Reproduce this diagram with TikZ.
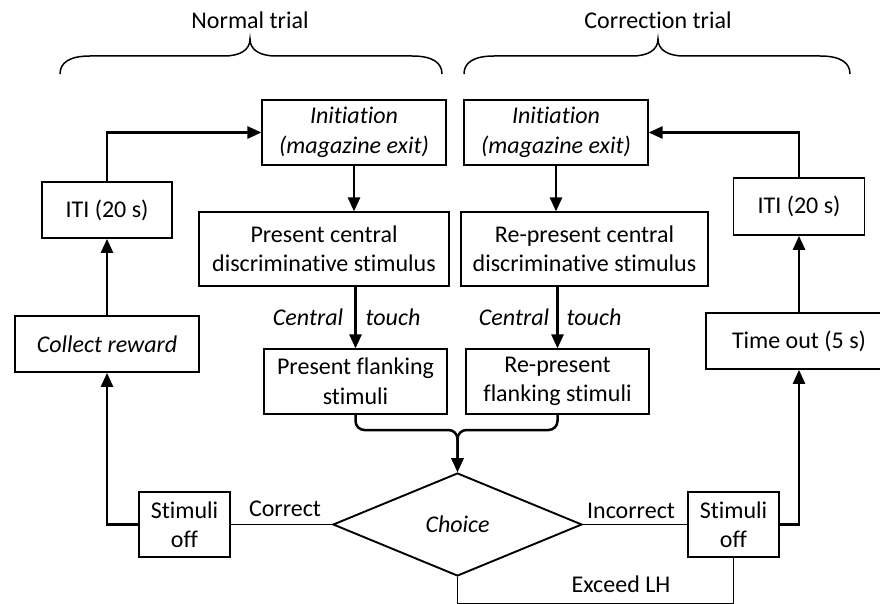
\documentclass[tikz,border=0pt]{standalone}
\usepackage{fontspec}
\setmainfont{Carlito}[Ligatures=NoCommon]
\usetikzlibrary{arrows.meta,shapes.geometric}
\tikzset{
  every node/.style={font=\fontsize{24}{29.5}\selectfont},
  ital/.style={font=\fontsize{24}{29.5}\selectfont\itshape},
  box/.style={draw,line width=1.1pt,align=center,inner sep=1pt},
  sidebox/.style={box,line width=1.7pt},
  arr/.style={line width=2.5pt,-{Triangle[length=14pt,width=12pt]}},
  link/.style={line width=1.9pt},
}
\begin{document}
\begin{tikzpicture}[x=1pt,y=-1pt]
    \useasboundingbox (0,0) rectangle (880,604);
    \clip (0,0) rectangle (880,604);
    % trial braces
    \foreach \l/\t/\r/\ttl in {60/250/442/Normal trial,464/658/850/Correction trial}{
      \draw[line width=1.5pt] (\l,74) .. controls (\l,63) and ({\l+9},56) .. ({\l+30},56) -- ({\t-26},56) .. controls ({\t-10},56) and (\t,50) .. (\t,39) .. controls (\t,50) and ({\t+10},56) .. ({\t+26},56) -- ({\r-30},56) .. controls ({\r-9},56) and (\r,63) .. (\r,74);
      \node (ttl\t) at (\t,20) {\ttl};
    }
    \node[box,ital,minimum width=184pt,minimum height=65pt] (initN) at (354,132.5) {Initiation\\(magazine exit)};
    \node[box,ital,minimum width=184pt,minimum height=65pt] (initC) at (556,132.5) {Initiation\\(magazine exit)};
    \node[sidebox,minimum width=130pt,minimum height=56pt] (itiN) at (107,210) {ITI (20 s)};
    \node[sidebox,minimum width=131pt,minimum height=57pt] (itiC) at (799,206.5) {ITI (20 s)};
    \node[box,minimum width=250pt,minimum height=74pt] (presN) at (324,249) {Present central\\discriminative stimulus};
    \node[box,minimum width=247pt,minimum height=74pt] (presC) at (584.5,249) {Re-present central\\discriminative stimulus};
    \node[sidebox,ital,minimum width=184pt,minimum height=56pt] (collect) at (107,344) {Collect reward};
    \node[sidebox,minimum width=186pt,minimum height=56pt] (timeout) at (799,341) {Time out (5 s)};
    \node[box,minimum width=183pt,minimum height=65pt] (flankN) at (355.5,381.5) {Present flanking\\stimuli};
    \node[box,minimum width=183pt,minimum height=65pt] (flankC) at (557.5,381.5) {Re-present\\flanking stimuli};
    \node[draw,diamond,link,ital,aspect=2.4,inner sep=0pt,minimum width=249pt,minimum height=103pt] (choice) at (457.5,524.5) {Choice};
    \node[sidebox,minimum width=91pt,minimum height=65pt] (stimN) at (184.5,524.5) {Stimuli\\off};
    \node[sidebox,minimum width=91pt,minimum height=65pt] (stimC) at (733.5,524.5) {Stimuli\\off};
    % labels
    \node[ital] (centralN) at (308,317) {Central};
    \node[ital] (touchN) at (393,317) {touch};
    \node[ital] (centralC) at (514,317) {Central};
    \node[ital] (touchC) at (594,317) {touch};
    \node (correct) at (285,509) {Correct};
    \node (incorrect) at (631,511) {Incorrect};
    \node (exceed) at (621,584) {Exceed LH};
    % connectors
    \coordinate (merge) at (457.5,430);
    \draw[arr] (itiN.north) |- (initN.west);
    \draw[arr] (itiC.north) |- (initC.east);
    \draw[arr] (initN.south) -- (initN.south |- presN.north);
    \draw[arr] (initC.south) -- (initC.south |- presC.north);
    \draw[arr] (presN.south -| flankN.north) -- (flankN.north);
    \draw[arr] (presC.south -| flankC.north) -- (flankC.north);
    \draw[arr,rounded corners=9pt] (flankN.south) |- (merge) -- (choice.north);
    \draw[arr,rounded corners=9pt] (flankC.south) |- (merge) -- (choice.north);
    \draw[link] (stimN.east) -- (choice.west);
    \draw[link] (choice.east) -- (stimC.west);
    \draw[arr] (stimN.west) -| (collect.south);
    \draw[arr] (collect.north) -- (itiN.south);
    \draw[arr] (stimC.east) -| (timeout.south);
    \draw[arr] (timeout.north) -- (itiC.south);
    \draw[link] (choice.south) -- ++(0,27) -| (stimC.south);
\end{tikzpicture}
\end{document}
